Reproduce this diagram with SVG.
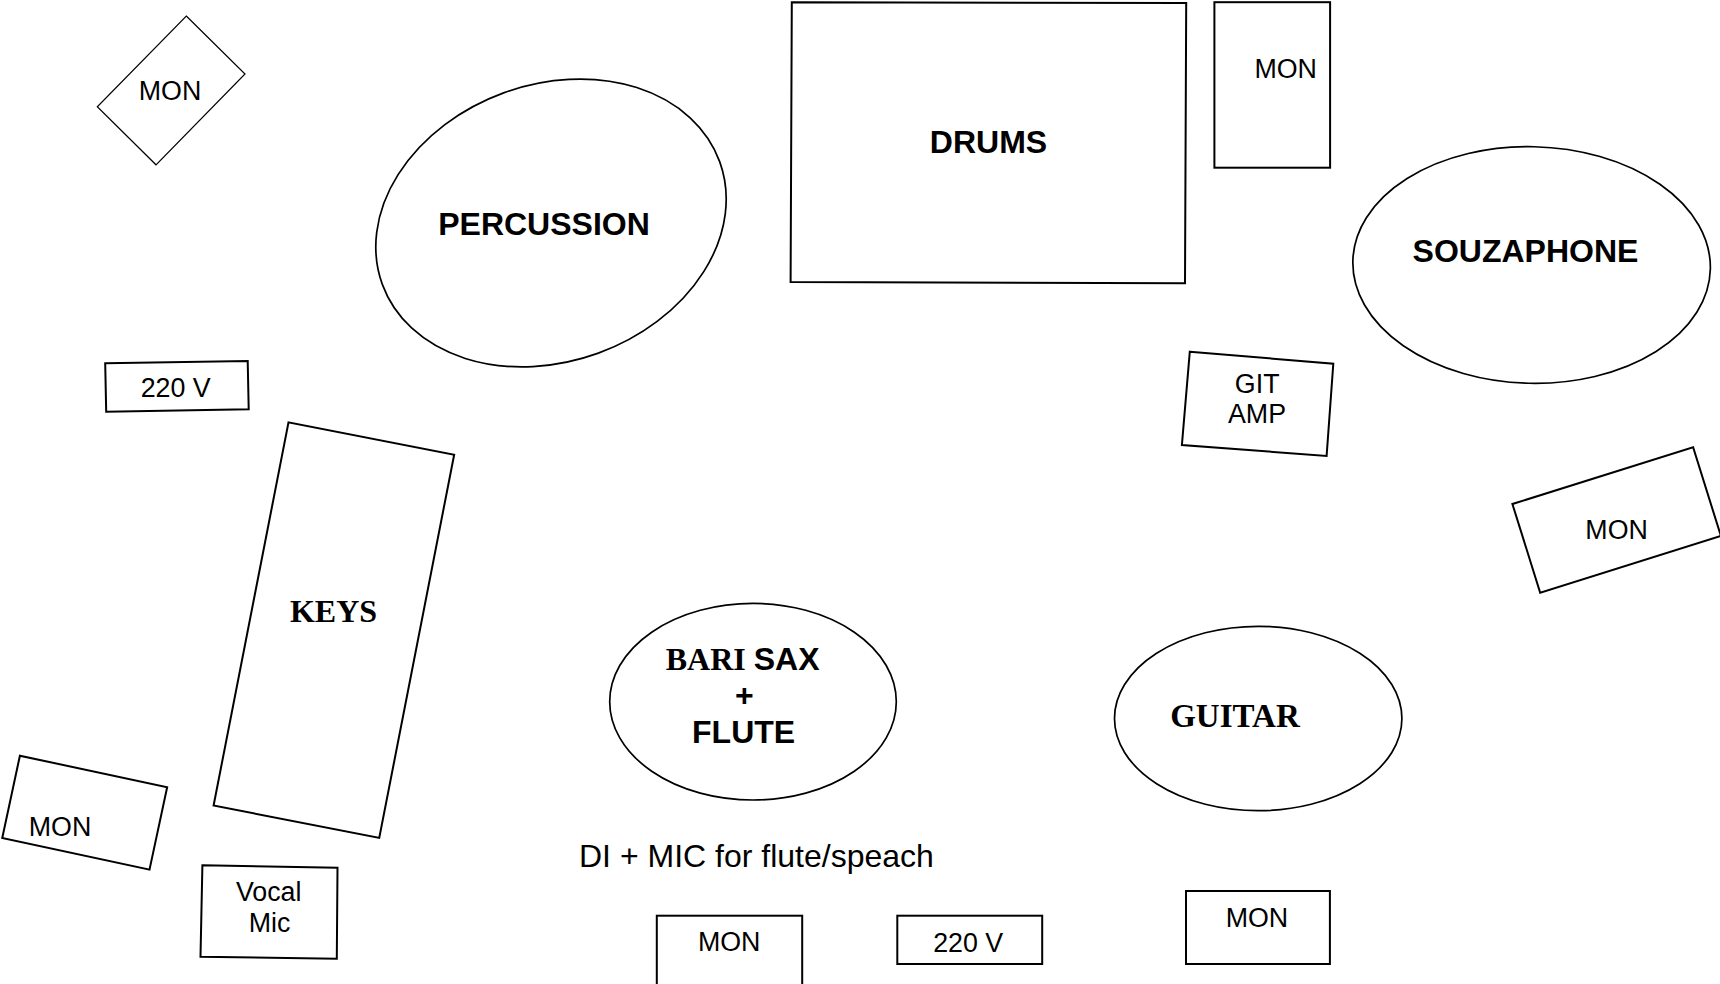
<svg xmlns="http://www.w3.org/2000/svg" width="1720" height="984" viewBox="0 0 1720 984">
<style>
.s{fill:none;stroke:#000;stroke-width:2}
.e{fill:none;stroke:#000;stroke-width:1.7}
.t{font-family:"Liberation Sans",Arial,sans-serif;font-size:26.8px;fill:#000;text-anchor:middle}
.b{font-family:"Liberation Sans",Arial,sans-serif;font-size:32px;font-weight:bold;fill:#000;text-anchor:middle}
.tb{font-family:"Liberation Serif","Times New Roman",serif;font-size:32px;font-weight:bold;fill:#000}
</style>
<rect width="1720" height="984" fill="#fff"/>
<g id="mon-diamond">
<polygon points="186.3,16 245,74 156,164.8 97.3,106.8" fill="none" stroke="#000" stroke-width="1.2"/>
<text class="t" x="170" y="100">MON</text>
</g>
<g id="percussion">
<ellipse class="e" cx="551" cy="223" rx="179.5" ry="138.5" transform="rotate(-20 551 223)"/>
<text class="b" x="544" y="235">PERCUSSION</text>
</g>
<g id="drums">
<polygon class="s" points="791.8,2.3 1186.2,3 1185,283.3 790.6,282"/>
<text class="b" x="988.5" y="153">DRUMS</text>
</g>
<g id="mon-top-right">
<rect class="s" x="1214.4" y="2.2" width="115.7" height="165.5"/>
<text class="t" x="1285.7" y="77.7">MON</text>
</g>
<g id="souzaphone">
<ellipse class="e" cx="1531.6" cy="265" rx="178.8" ry="118.3" transform="rotate(1.3 1531.6 265)"/>
<text class="b" x="1525.5" y="261.7">SOUZAPHONE</text>
</g>
<g id="power-top">
<polygon class="s" points="105.2,363.3 247.7,361 248.7,409.3 106.2,411.7"/>
<text class="t" x="175.7" y="397">220 V</text>
</g>
<g id="git-amp">
<polygon class="s" points="1189.8,351.7 1333.3,363.7 1326.6,456 1181.9,445"/>
<text class="t" x="1257.2" y="392.7">GIT</text>
<text class="t" x="1257" y="422.7">AMP</text>
</g>
<g id="mon-right">
<rect class="s" x="0" y="0" width="189.4" height="92.9" transform="translate(1512.4 504) rotate(-17.4)"/>
<text class="t" x="1616.6" y="539">MON</text>
</g>
<g id="keys">
<rect class="s" x="0" y="0" width="168.8" height="390.5" transform="translate(288.5 422.3) rotate(11.06)"/>
<text class="tb" x="333.5" y="622" text-anchor="middle">KEYS</text>
</g>
<g id="mon-bottom-left">
<rect class="s" x="0" y="0" width="150.6" height="84.2" transform="translate(19.9 755.7) rotate(12.1)"/>
<text class="t" x="60" y="836">MON</text>
</g>
<g id="vocal-mic">
<polygon class="s" points="202.4,865.2 337.5,867.8 336.8,958.7 200.5,956.8"/>
<text class="t" x="268.7" y="901">Vocal</text>
<text class="t" x="269.6" y="931.5">Mic</text>
</g>
<g id="bari-sax">
<ellipse class="e" cx="753" cy="701.7" rx="143.3" ry="98.3"/>
<text x="742.6" y="670" text-anchor="middle"><tspan class="tb">BARI </tspan><tspan class="b" style="text-anchor:start">SAX</tspan></text>
<text class="b" x="744.4" y="706">+</text>
<text class="b" x="743.6" y="743.3">FLUTE</text>
</g>
<g id="guitar">
<ellipse class="e" cx="1258.2" cy="718.5" rx="143.7" ry="92.2"/>
<text class="tb" x="1235" y="726.7" text-anchor="middle" style="font-size:33px">GUITAR</text>
</g>
<g id="note">
<text x="579" y="867" style="font-family:'Liberation Sans',Arial,sans-serif;font-size:32px;fill:#000">DI + MIC for flute/speach</text>
</g>
<g id="mon-bottom">
<rect class="s" x="656.8" y="915.7" width="145.4" height="80"/>
<text class="t" x="729.2" y="951">MON</text>
</g>
<g id="power-bottom">
<rect class="s" x="897.3" y="915.7" width="144.9" height="48.3"/>
<text class="t" x="968.2" y="951.7">220 V</text>
</g>
<g id="mon-bottom-right">
<rect class="s" x="1186" y="891" width="143.9" height="73"/>
<text class="t" x="1256.9" y="926.7">MON</text>
</g>
<g id="connectors"/>
</svg>
